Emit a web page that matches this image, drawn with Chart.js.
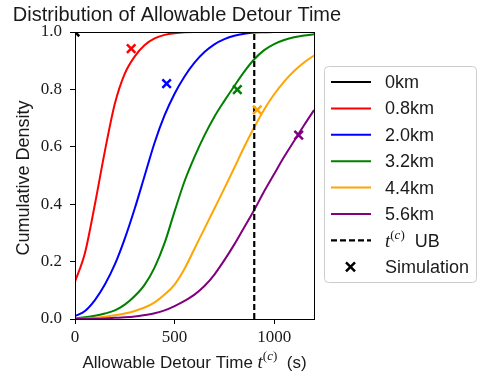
<!DOCTYPE html>
<html>
<head>
<meta charset="utf-8">
<script src="https://cdn.jsdelivr.net/npm/chart.js@4.4.1/dist/chart.umd.min.js"></script>
<style>
  body { margin: 0; background: #fff; }
  #wrap { width: 480px; height: 380px; position: relative; }
</style>
</head>
<body>
<div id="wrap"><canvas id="cdfChart"></canvas></div>
<script>
// ===== Data =====
const times = [0, 50, 100, 150, 200, 250, 300, 350, 400, 450, 500, 550, 600,
  650, 700, 750, 800, 850, 900, 950, 1000, 1050, 1100, 1150, 1200];

const cdf0km = [1, 1, 1, 1, 1, 1, 1, 1, 1, 1, 1, 1, 1, 1, 1, 1, 1, 1, 1, 1, 1, 1, 1, 1, 1];
const cdf08km = [0.13, 0.23, 0.40, 0.585, 0.75, 0.855, 0.915, 0.955, 0.978, 0.99, 0.996, 0.999, 1,
  1, 1, 1, 1, 1, 1, 1, 1, 1, 1, 1, 1];
const cdf20km = [0.01, 0.028, 0.066, 0.12, 0.19, 0.28, 0.385, 0.5, 0.615, 0.71, 0.785, 0.845, 0.893,
  0.93, 0.957, 0.975, 0.987, 0.994, 0.998, 0.999, 1, 1, 1, 1, 1];
const cdf32km = [0.003, 0.006, 0.011, 0.019, 0.03, 0.05, 0.08, 0.12, 0.18, 0.265, 0.375, 0.48, 0.565,
  0.64, 0.705, 0.76, 0.812, 0.862, 0.905, 0.937, 0.958, 0.972, 0.982, 0.988, 0.992];
const cdf44km = [0.001, 0.002, 0.004, 0.008, 0.013, 0.019, 0.028, 0.04, 0.058, 0.085, 0.12, 0.175, 0.245,
  0.315, 0.385, 0.455, 0.527, 0.6, 0.668, 0.73, 0.783, 0.827, 0.864, 0.894, 0.918];
const cdf56km = [0, 0.0005, 0.001, 0.002, 0.004, 0.006, 0.009, 0.014, 0.02, 0.03, 0.045, 0.063, 0.085,
  0.115, 0.155, 0.205, 0.26, 0.32, 0.38, 0.445, 0.505, 0.565, 0.62, 0.675, 0.728];

const seriesLabels = ['0km', '0.8km', '2.0km', '3.2km', '4.4km', '5.6km'];
const seriesColors = ['black', 'red', 'blue', 'green', 'orange', 'purple'];
const seriesValues = [cdf0km, cdf08km, cdf20km, cdf32km, cdf44km, cdf56km];

const simTimes = [0, 282, 460, 815, 915, 1123];
const simValues = [1.0, 0.942, 0.82, 0.799, 0.729, 0.641];

const upperBound = 900;
const xTicks = [0, 500, 1000];
const yTicks = [0, 0.2, 0.4, 0.6, 0.8, 1.0];

// ===== Fonts =====
const SANS = '"Liberation Sans", Arial, sans-serif';
const SERIF = '"Liberation Serif", "DejaVu Serif", serif';

// ===== Datasets =====
const datasets = seriesValues.map((vals, i) => ({
  label: seriesLabels[i],
  data: times.map((t, j) => ({ x: t, y: vals[j] })),
  borderColor: seriesColors[i],
  borderWidth: 2,
  pointRadius: 0,
  cubicInterpolationMode: 'monotone',
  clip: 0,
  order: 10 - i
}));

datasets.push({
  label: 'UB',
  data: [{ x: upperBound, y: 0 }, { x: upperBound, y: 1 }],
  borderColor: 'black',
  borderWidth: 2.2,
  borderDash: [6, 3],
  pointRadius: 0,
  clip: 0,
  order: 2
});

datasets.push({
  label: 'Simulation',
  type: 'scatter',
  data: simTimes.map((t, i) => ({ x: t, y: simValues[i] })),
  pointStyle: 'crossRot',
  pointRadius: 6,
  pointBorderWidth: 2.5,
  pointBorderColor: seriesColors,
  pointBackgroundColor: seriesColors,
  showLine: false,
  clip: 0,
  order: 1
});

// ===== Helpers =====
// text runs [{text, font, dy}] so the t^(c) symbol can sit inside a label
function runsWidth(ctx, runs) {
  return runs.reduce((w, r) => { ctx.font = r.font; return w + ctx.measureText(r.text).width; }, 0);
}
function drawRuns(ctx, runs, x, y) {
  runs.forEach(r => {
    ctx.font = r.font;
    ctx.fillText(r.text, x, y + (r.dy || 0));
    x += ctx.measureText(r.text).width;
  });
}
function tcRuns(size) {
  const small = Math.round(size * 0.7);
  const up = -size * 0.42;
  return [
    { text: 't', font: `italic ${size}px ${SERIF}` },
    { text: '(', font: `${small}px ${SERIF}`, dy: up },
    { text: 'c', font: `italic ${small}px ${SERIF}`, dy: up },
    { text: ')', font: `${small}px ${SERIF}`, dy: up }
  ];
}

// ===== Decorations plugin: frame, title, axis labels, legend =====
const decorations = {
  id: 'decorations',
  afterDatasetsDraw(chart) {
    const { ctx, chartArea: a } = chart;
    ctx.save();
    ctx.strokeStyle = 'black';
    ctx.lineWidth = 1;
    ctx.strokeRect(a.left + 0.5, a.top + 0.5, a.right - a.left, a.bottom - a.top);
    ctx.restore();
  },
  afterDraw(chart) {
    const { ctx, chartArea: a } = chart;
    ctx.save();
    ctx.fillStyle = '#1a1a1a';
    ctx.textBaseline = 'alphabetic';

    // title
    ctx.font = `20px ${SANS}`;
    ctx.textAlign = 'center';
    ctx.fillText('Distribution of Allowable Detour Time', 177, 21);

    // x label
    ctx.textAlign = 'left';
    const xRuns = [{ text: 'Allowable Detour Time ', font: `17px ${SANS}` }]
      .concat(tcRuns(19))
      .concat([{ text: '  (s)', font: `17px ${SANS}` }]);
    const xw = runsWidth(ctx, xRuns);
    drawRuns(ctx, xRuns, (a.left + a.right) / 2 - xw / 2, 368);

    // y label
    ctx.save();
    ctx.translate(29, 178);
    ctx.rotate(-Math.PI / 2);
    ctx.font = `18px ${SANS}`;
    ctx.textAlign = 'center';
    ctx.fillText('Cumulative Density', 0, 0);
    ctx.restore();

    // legend box
    const bx = 324.5, by = 66.5, bw = 152, bh = 216;
    ctx.beginPath();
    ctx.roundRect(bx, by, bw, bh, 4);
    ctx.fillStyle = 'rgba(255,255,255,0.8)';
    ctx.fill();
    ctx.strokeStyle = '#cccccc';
    ctx.lineWidth = 1;
    ctx.stroke();

    const rowY = i => 82 + i * 26.4;
    ctx.textBaseline = 'middle';
    ctx.textAlign = 'left';
    seriesLabels.forEach((lab, i) => {
      const y = rowY(i);
      ctx.beginPath();
      ctx.moveTo(331, y);
      ctx.lineTo(371, y);
      ctx.strokeStyle = seriesColors[i];
      ctx.lineWidth = 2;
      ctx.stroke();
      ctx.fillStyle = '#1a1a1a';
      ctx.font = `18px ${SANS}`;
      ctx.fillText(lab, 385, y + 1);
    });

    // UB entry
    let y = rowY(6);
    ctx.beginPath();
    ctx.setLineDash([6, 3]);
    ctx.moveTo(331, y);
    ctx.lineTo(371, y);
    ctx.strokeStyle = 'black';
    ctx.lineWidth = 2.2;
    ctx.stroke();
    ctx.setLineDash([]);
    ctx.fillStyle = '#1a1a1a';
    ctx.textBaseline = 'alphabetic';
    drawRuns(ctx, tcRuns(19).concat([{ text: '  UB', font: `18px ${SANS}` }]), 385, y + 7);

    // Simulation entry
    y = rowY(7);
    ctx.beginPath();
    ctx.moveTo(346, y - 4.5); ctx.lineTo(355, y + 4.5);
    ctx.moveTo(355, y - 4.5); ctx.lineTo(346, y + 4.5);
    ctx.strokeStyle = 'black';
    ctx.lineWidth = 2.5;
    ctx.stroke();
    ctx.textBaseline = 'middle';
    ctx.font = `18px ${SANS}`;
    ctx.fillText('Simulation', 385, y + 1);

    ctx.restore();
  }
};

// ===== Chart =====
new Chart(document.getElementById('cdfChart'), {
  type: 'line',
  data: { datasets },
  options: {
    responsive: true,
    maintainAspectRatio: false,
    animation: false,
    layout: { padding: { top: 32, right: 166, left: 0, bottom: 0 } },
    plugins: { legend: { display: false }, tooltip: { enabled: false } },
    scales: {
      x: {
        type: 'linear',
        min: 0,
        max: 1200,
        afterBuildTicks: s => { s.ticks = xTicks.map(v => ({ value: v })); },
        afterFit: s => { s.height = 61; },
        ticks: {
          font: { family: SERIF, size: 17 },
          color: '#1a1a1a',
          padding: 3,
          maxRotation: 0,
          callback: v => String(v)
        },
        grid: { drawOnChartArea: false, tickLength: 5, tickColor: 'black' },
        border: { color: 'black', width: 1 }
      },
      y: {
        min: 0,
        max: 1,
        afterBuildTicks: s => { s.ticks = yTicks.map(v => ({ value: v })); },
        afterFit: s => { s.width = 75; },
        ticks: {
          font: { family: SERIF, size: 17 },
          color: '#1a1a1a',
          padding: 8,
          callback: v => v.toFixed(1)
        },
        grid: { drawOnChartArea: false, tickLength: 5, tickColor: 'black' },
        border: { color: 'black', width: 1 }
      }
    }
  },
  plugins: [decorations]
});
</script>
</body>
</html>
